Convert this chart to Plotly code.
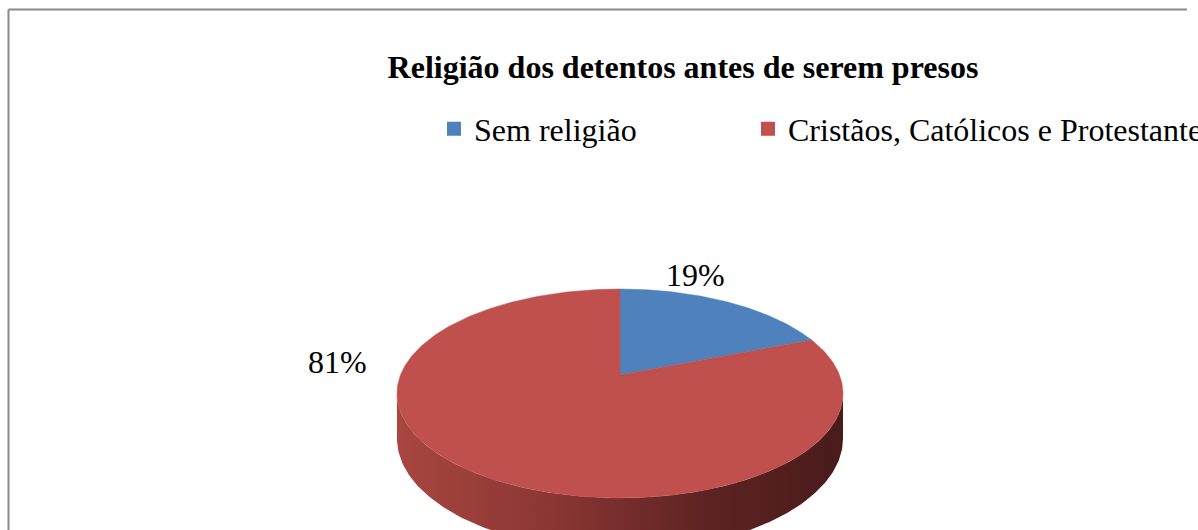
import numpy as np
import plotly.graph_objects as go

# ---- data ----
categories = ["Sem religião", "Cristãos, Católicos e Protestantes"]
values = [19, 81]
colors = ["#4F81BD", "#C0504D"]
title_text = "Religião dos detentos antes de serem presos"

# ---- 3D pie geometry (perspective-projected disc) ----
W, H = 1198, 530
cx, cy = 620, 375          # projected centre of the disc
A, B = 219.5, 101.2         # horizontal / depth scale
k = 0.177                   # perspective strength
thick = 43.6                # disc thickness
FONT = "Liberation Serif"

def proj(t, drop=0.0):
    w = 1 + k * np.sin(t)
    return cx + A * np.cos(t) / w, cy - B * np.sin(t) / w + drop / w

fig = go.Figure()

# side (front visible part of the cylinder wall)
t_left = -np.pi + np.arcsin(k)
t_right = -np.arcsin(k)
ts = np.linspace(t_left, t_right, 200)
xt, yt = proj(ts)
xb, yb = proj(ts[::-1], thick)
fig.add_trace(go.Scatter(
    x=np.concatenate([xt, xb]), y=np.concatenate([yt, yb]),
    fill="toself", mode="lines", line=dict(width=0, color="#7a2f2d"),
    fillgradient=dict(type="horizontal",
                      colorscale=[[0, "#a8463f"], [0.35, "#8a3633"],
                                  [0.7, "#5c2322"], [1, "#4a1b1b"]]),
    showlegend=False, hoverinfo="skip"))

# top slices
total = sum(values)
start = np.pi / 2
label_pos = [(695, 275), (337, 362)]
for cat, val, col in zip(categories, values, colors):
    span = 2 * np.pi * val / total
    tt = np.linspace(start, start - span, 300)
    px, py = proj(tt)
    fig.add_trace(go.Scatter(
        x=np.concatenate([[cx], px, [cx]]), y=np.concatenate([[cy], py, [cy]]),
        fill="toself", mode="lines", line=dict(width=0.5, color=col),
        fillcolor=col, showlegend=False, hoverinfo="skip"))
    start -= span

# legend entries (each in its own legend box to reproduce spacing)
legend_ids = ["legend", "legend2"]
for cat, col, lid in zip(categories, colors, legend_ids):
    fig.add_trace(go.Scatter(
        x=[None], y=[None], mode="markers", name=cat, legend=lid,
        marker=dict(symbol="square", size=14, color=col)))

for (lx, ly), val in zip(label_pos, values):
    fig.add_annotation(x=lx, y=ly, text=f"{val}%", showarrow=False,
                       font=dict(family=FONT, size=32, color="#000"),
                       xanchor="center", yanchor="middle")

# chart border (top and left visible)
fig.add_shape(type="line", xref="x", yref="y", x0=8.5, y0=9.5, x1=1187, y1=9.5,
              line=dict(color="#8a8a8a", width=2))
fig.add_shape(type="line", xref="x", yref="y", x0=8.5, y0=9.5, x1=8.5, y1=540,
              line=dict(color="#8a8a8a", width=2))

legend_common = dict(orientation="h", yanchor="middle", y=1 - 129 / H,
                     xanchor="left", bgcolor="rgba(0,0,0,0)",
                     font=dict(family=FONT, size=32, color="#000"))

fig.update_layout(
    width=W, height=H, autosize=False,
    margin=dict(l=0, r=0, t=0, b=0, autoexpand=False),
    paper_bgcolor="white", plot_bgcolor="white",
    title=dict(text=f"<b>{title_text}</b>", x=683 / W, xanchor="center",
               y=1 - 67 / H, yanchor="middle",
               font=dict(family=FONT, size=32, color="#000")),
    legend=dict(x=434 / W, **legend_common),
    legend2=dict(x=748 / W, **legend_common),
    xaxis=dict(range=[0, W], visible=False, fixedrange=True),
    yaxis=dict(range=[H, 0], visible=False, fixedrange=True),
)

fig.write_html("out.html", config={"displayModeBar": False},
               post_script="document.body.style.margin='0';")
